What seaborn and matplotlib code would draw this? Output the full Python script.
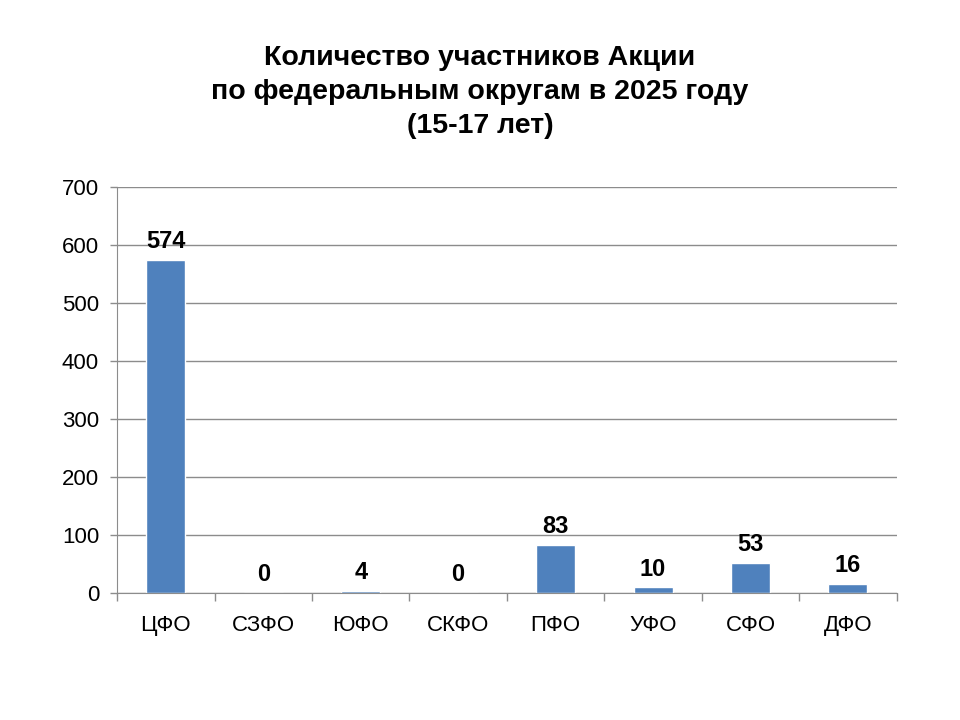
import numpy as np
import pandas as pd
import matplotlib
matplotlib.use('Agg')
import matplotlib.pyplot as plt
import seaborn as sns
from matplotlib.ticker import FixedLocator

districts = ['ЦФО', 'СЗФО', 'ЮФО', 'СКФО', 'ПФО', 'УФО', 'СФО', 'ДФО']
participants = [574, 0, 4, 0, 83, 10, 53, 16]

df = pd.DataFrame({'district': districts, 'count': participants})

sns.set_style('white')
plt.rcParams['font.family'] = ['Liberation Sans', 'DejaVu Sans']
plt.rcParams['text.color'] = 'black'
plt.rcParams['xtick.color'] = 'black'
plt.rcParams['ytick.color'] = 'black'

fig = plt.figure(figsize=(9.6, 7.2), dpi=100)
ax = fig.add_axes([0.122, 0.176, 0.812, 0.564])

sns.barplot(data=df, x='district', y='count', color='#4F81BD', width=0.4,
            saturation=1, ax=ax)

ax.set_ylim(0, 700)
ax.set_xlim(-0.5, len(districts) - 0.5)
ax.set_yticks(range(0, 701, 100))
ax.yaxis.grid(True, color='#8c8c8c', linewidth=1)
ax.set_axisbelow(True)
for s in ['top', 'right']:
    ax.spines[s].set_visible(False)
ax.spines['left'].set_color('#8c8c8c')
ax.spines['bottom'].set_color('#8c8c8c')

# ticks between categories, like Excel
ax.xaxis.set_minor_locator(FixedLocator(np.arange(-0.5, len(districts), 1)))
ax.tick_params(axis='x', which='major', bottom=False, pad=12, labelsize=16)
ax.tick_params(axis='x', which='minor', bottom=True, length=6, color='#8c8c8c', width=1)
ax.tick_params(axis='y', left=True, length=5, color='#8c8c8c', width=1,
               labelsize=16, pad=8)
ax.set_xlabel('')
ax.set_ylabel('')

for i, v in enumerate(participants):
    ax.annotate(str(v), (i, v), xytext=(0, 5), textcoords='offset points',
                ha='center', va='bottom', fontsize=17, fontweight='bold')

fig.text(0.5, 0.872, 'Количество участников Акции\nпо федеральным округам в 2025 году\n(15-17 лет)',
         ha='center', va='center', fontsize=20.5, fontweight='bold', linespacing=1.4)

fig.savefig('out.png', dpi=100)
